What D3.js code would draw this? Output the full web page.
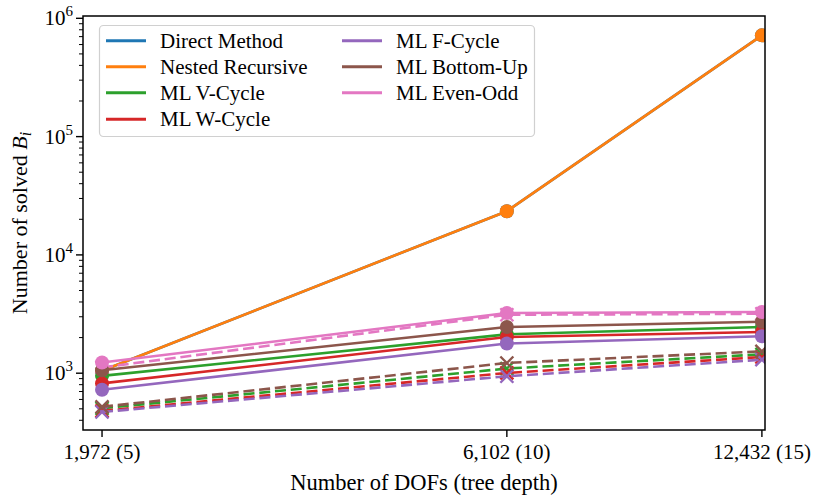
<!DOCTYPE html>
<html>
<head>
<meta charset="utf-8">
<script src="https://cdn.jsdelivr.net/npm/d3@7"></script>
<style>
  html, body { margin: 0; padding: 0; background: #fff; }
</style>
</head>
<body>
<svg id="chart" width="813" height="497" font-family="Liberation Serif, DejaVu Serif, serif"></svg>
<script>
// Problem sizes: degrees of freedom and the matching tree depth
const dofs = [1972, 6102, 12432];
const xTickLabels = ["1,972 (5)", "6,102 (10)", "12,432 (15)"];
const yTickValues = [1e3, 1e4, 1e5, 1e6];
const yTickExponents = ["3", "4", "5", "6"];

// Number of solved B_i per method (solid lines, circle markers)
const methodNames = ["Direct Method", "Nested Recursive", "ML V-Cycle", "ML W-Cycle",
                     "ML F-Cycle", "ML Bottom-Up", "ML Even-Odd"];
const methodColors = ["#1f77b4", "#ff7f0e", "#2ca02c", "#d62728",
                      "#9467bd", "#8c564b", "#e377c2"];
const directMethod    = [1050, 23400, 718000];
const nestedRecursive = [1050, 23400, 718000];
const mlVCycle        = [950, 2130, 2460];
const mlWCycle        = [820, 2025, 2230];
const mlFCycle        = [725, 1780, 2050];
const mlBottomUp      = [1060, 2460, 2720];
const mlEvenOdd       = [1230, 3230, 3290];

// Same multilevel schemes, second variant (dashed lines, x markers)
const mlVCycleDashed   = [505, 1095, 1445];
const mlWCycleDashed   = [480, 1005, 1370];
const mlFCycleDashed   = [470, 942, 1300];
const mlBottomUpDashed = [520, 1220, 1530];
const mlEvenOddDashed  = [1120, 3120, 3180];

const solidSeries = [directMethod, nestedRecursive, mlVCycle, mlWCycle,
                     mlFCycle, mlBottomUp, mlEvenOdd];
const dashedSeries = [
  { values: mlVCycleDashed,   color: methodColors[2] },
  { values: mlWCycleDashed,   color: methodColors[3] },
  { values: mlFCycleDashed,   color: methodColors[4] },
  { values: mlBottomUpDashed, color: methodColors[5] },
  { values: mlEvenOddDashed,  color: methodColors[6] }
];

const FONT = "Liberation Serif, DejaVu Serif, serif";
const svg = d3.select("#chart");
const plot = { left: 83, right: 765, top: 16, bottom: 430 };

const x = d3.scaleLog().domain([1870, 12540]).range([plot.left, plot.right]);
const y = d3.scaleLog().domain([331, 1.046e6]).range([plot.bottom, plot.top]);

svg.append("clipPath").attr("id", "plot-clip")
  .append("rect")
  .attr("x", plot.left).attr("y", plot.top)
  .attr("width", plot.right - plot.left).attr("height", plot.bottom - plot.top);

const line = d3.line().x((d, i) => x(dofs[i])).y(d => y(d));

const marks = svg.append("g").attr("clip-path", "url(#plot-clip)");

function drawSolid(values, color) {
  marks.append("path")
    .attr("d", line(values))
    .attr("fill", "none").attr("stroke", color)
    .attr("stroke-width", 2.6).attr("stroke-linejoin", "round");
  marks.selectAll(null).data(values).enter().append("circle")
    .attr("cx", (d, i) => x(dofs[i])).attr("cy", d => y(d))
    .attr("r", 7).attr("fill", color);
}

function drawDashed(values, color) {
  marks.append("path")
    .attr("d", line(values))
    .attr("fill", "none").attr("stroke", color)
    .attr("stroke-width", 2.6).attr("stroke-dasharray", "11,4.8");
  const s = 6.5;
  marks.selectAll(null).data(values).enter().append("path")
    .attr("d", (d, i) => {
      const cx = x(dofs[i]), cy = y(d);
      return `M${cx - s},${cy - s}L${cx + s},${cy + s}M${cx - s},${cy + s}L${cx + s},${cy - s}`;
    })
    .attr("stroke", color).attr("stroke-width", 2.4).attr("fill", "none");
}

// Direct and nested first, then the dashed variant, then the solid ML series
solidSeries.slice(0, 2).forEach((v, i) => drawSolid(v, methodColors[i]));
dashedSeries.forEach(s => drawDashed(s.values, s.color));
solidSeries.slice(2).forEach((v, i) => drawSolid(v, methodColors[i + 2]));

// Y axis: log ticks, major decades plus minor 2..9
const yAxis = svg.append("g").attr("transform", `translate(${plot.left},0)`);
const minorTicks = [];
for (let e = 2; e <= 6; e++) {
  for (let m = 2; m <= 9; m++) {
    const v = m * Math.pow(10, e);
    if (v >= y.domain()[0] && v <= y.domain()[1]) minorTicks.push(v);
  }
}
yAxis.selectAll(".minor").data(minorTicks).enter().append("line")
  .attr("x1", 0).attr("x2", -4).attr("y1", d => y(d)).attr("y2", d => y(d))
  .attr("stroke", "#000").attr("stroke-width", 1);
yAxis.selectAll(".major").data(yTickValues).enter().append("line")
  .attr("x1", 0).attr("x2", -7).attr("y1", d => y(d)).attr("y2", d => y(d))
  .attr("stroke", "#000").attr("stroke-width", 1.4);
const yLabels = yAxis.selectAll(".ylab").data(yTickValues).enter().append("text")
  .attr("x", -10).attr("y", d => y(d) + 7)
  .attr("text-anchor", "end").attr("font-size", 21).attr("font-family", FONT);
yLabels.append("tspan").text("10");
yLabels.append("tspan").attr("font-size", 15).attr("dy", -9)
  .text((d, i) => yTickExponents[i]);

// X axis: one tick per problem size
const xAxis = svg.append("g").attr("transform", `translate(0,${plot.bottom})`);
xAxis.selectAll(".xt").data(dofs).enter().append("line")
  .attr("x1", d => x(d)).attr("x2", d => x(d)).attr("y1", 0).attr("y2", 7)
  .attr("stroke", "#000").attr("stroke-width", 1.4);
xAxis.selectAll(".xl").data(dofs).enter().append("text")
  .attr("x", d => x(d)).attr("y", 29)
  .attr("text-anchor", "middle").attr("font-size", 21).attr("font-family", FONT)
  .text((d, i) => xTickLabels[i]);

// Frame
svg.append("rect")
  .attr("x", plot.left).attr("y", plot.top)
  .attr("width", plot.right - plot.left).attr("height", plot.bottom - plot.top)
  .attr("fill", "none").attr("stroke", "#000").attr("stroke-width", 1.5);

// Axis titles
svg.append("text")
  .attr("x", (plot.left + plot.right) / 2).attr("y", 490)
  .attr("text-anchor", "middle").attr("font-size", 22.5).attr("font-family", FONT)
  .text("Number of DOFs (tree depth)");

const yTitle = svg.append("text")
  .attr("transform", `translate(27,${(plot.top + plot.bottom) / 2}) rotate(-90)`)
  .attr("text-anchor", "middle").attr("font-size", 22).attr("font-family", FONT);
yTitle.append("tspan").text("Number of solved ");
yTitle.append("tspan").attr("font-style", "italic").text("B");
yTitle.append("tspan").attr("font-style", "italic").attr("font-size", 16)
  .attr("dy", 4).text("i");

// Legend
const legend = svg.append("g");
legend.append("rect")
  .attr("x", 99.5).attr("y", 25.5).attr("width", 435).attr("height", 111)
  .attr("rx", 4).attr("fill", "#fff").attr("fill-opacity", 0.8)
  .attr("stroke", "#d0d0d0").attr("stroke-width", 1.2);
const legendRows = [40.7, 66.7, 92.7, 119.3];
methodNames.forEach((name, i) => {
  const col = i < 4 ? 0 : 1;
  const row = i < 4 ? i : i - 4;
  const lx = col === 0 ? 106 : 342;
  const ly = legendRows[row];
  legend.append("line")
    .attr("x1", lx).attr("x2", lx + 40).attr("y1", ly).attr("y2", ly)
    .attr("stroke", methodColors[i]).attr("stroke-width", 3);
  legend.append("text")
    .attr("x", lx + 54).attr("y", ly + 7)
    .attr("font-size", 21).attr("font-family", FONT).text(name);
});
</script>
</body>
</html>
